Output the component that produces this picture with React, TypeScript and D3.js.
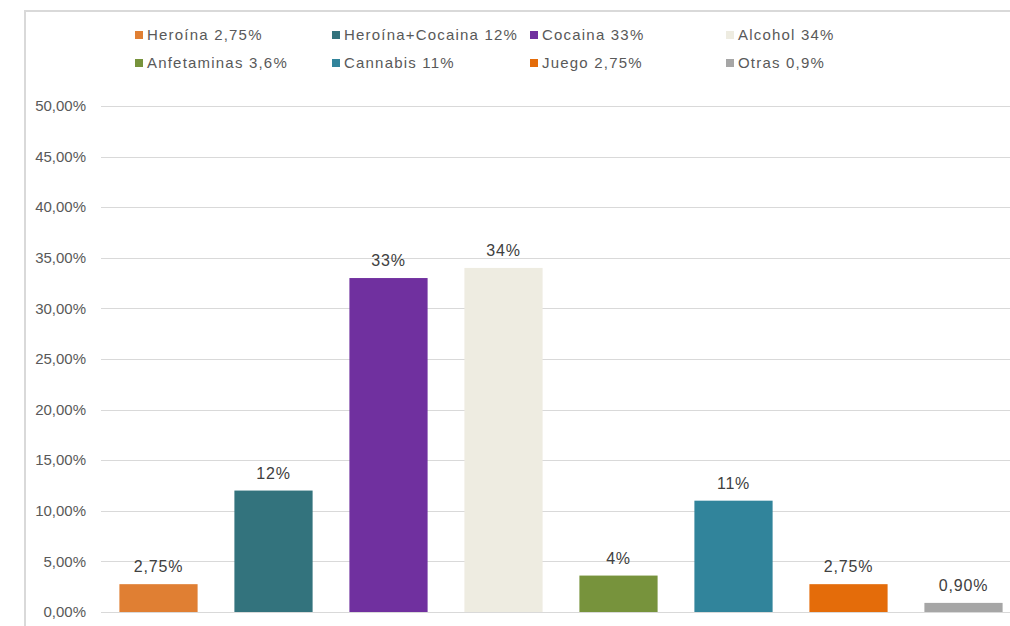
import * as d3 from "d3";
import { useEffect, useRef } from "react";

const categories = [
  "Heroína",
  "Heroína+Cocaina",
  "Cocaina",
  "Alcohol",
  "Anfetaminas",
  "Cannabis",
  "Juego",
  "Otras",
];
const values = [0.0275, 0.12, 0.33, 0.34, 0.036, 0.11, 0.0275, 0.009];
const barLabels = ["2,75%", "12%", "33%", "34%", "4%", "11%", "2,75%", "0,90%"];
const legendLabels = [
  "Heroína 2,75%",
  "Heroína+Cocaina 12%",
  "Cocaina 33%",
  "Alcohol 34%",
  "Anfetaminas 3,6%",
  "Cannabis 11%",
  "Juego 2,75%",
  "Otras 0,9%",
];
const colors = [
  "#E07F33",
  "#33737D",
  "#70309F",
  "#EEECE1",
  "#77933C",
  "#31849B",
  "#E46C0A",
  "#A6A6A6",
];
const yTicks = [0, 0.05, 0.1, 0.15, 0.2, 0.25, 0.3, 0.35, 0.4, 0.45, 0.5];

const WIDTH = 1010;
const HEIGHT = 626;
const FONT = "'Liberation Sans', Arial, sans-serif";

export default function App() {
  const ref = useRef<SVGSVGElement>(null);

  useEffect(() => {
    document.body.style.margin = "0";
    document.body.style.overflow = "hidden";
    if (!ref.current) return;
    const svg = d3.select(ref.current);
    svg.selectAll("*").remove();

    const x = d3
      .scaleBand<string>()
      .domain(categories)
      .range([101, 1021])
      .paddingInner(0.32)
      .paddingOuter(0.16);

    const y = d3.scaleLinear().domain([0, 0.5]).range([612, 106]);

    // chart frame (only top and left edges are visible)
    svg
      .append("path")
      .attr("d", `M25,${HEIGHT} V11 H${WIDTH}`)
      .attr("fill", "none")
      .attr("stroke", "#D9D9D9")
      .attr("stroke-width", 2);

    // gridlines
    svg
      .append("g")
      .selectAll("line")
      .data(yTicks)
      .enter()
      .append("line")
      .attr("x1", 101)
      .attr("x2", WIDTH)
      .attr("y1", (d) => Math.round(y(d)) + 0.5)
      .attr("y2", (d) => Math.round(y(d)) + 0.5)
      .attr("stroke", "#D9D9D9")
      .attr("stroke-width", 1.2);

    const fmt = (d: number) => (d * 100).toFixed(2).replace(".", ",") + "%";

    svg
      .append("g")
      .selectAll("text")
      .data(yTicks)
      .enter()
      .append("text")
      .attr("x", 86)
      .attr("y", (d) => y(d))
      .attr("dy", "0.35em")
      .attr("text-anchor", "end")
      .attr("font-family", FONT)
      .attr("font-size", "15px")
      .attr("fill", "#595959")
      .text(fmt);

    // bars
    svg
      .append("g")
      .selectAll("rect")
      .data(values)
      .enter()
      .append("rect")
      .attr("x", (d, i) => x(categories[i])!)
      .attr("y", (d) => y(d))
      .attr("width", x.bandwidth())
      .attr("height", (d) => y(0) - y(d))
      .attr("fill", (d, i) => colors[i]);

    // data labels
    svg
      .append("g")
      .selectAll("text")
      .data(values)
      .enter()
      .append("text")
      .attr("x", (d, i) => x(categories[i])! + x.bandwidth() / 2)
      .attr("y", (d) => y(d) - 12)
      .attr("text-anchor", "middle")
      .attr("font-family", FONT)
      .attr("font-size", "16px")
      .attr("letter-spacing", "0.8px")
      .attr("fill", "#404040")
      .text((d, i) => barLabels[i]);

    // legend
    const colX = [135, 332, 530, 726];
    const rowY = [40, 68];
    const legend = svg
      .append("g")
      .selectAll("g")
      .data(legendLabels)
      .enter()
      .append("g")
      .attr("transform", (d, i) => `translate(${colX[i % 4]},${rowY[Math.floor(i / 4)]})`);

    legend
      .append("rect")
      .attr("x", 0)
      .attr("y", -9)
      .attr("width", 8)
      .attr("height", 8)
      .attr("fill", (d, i) => colors[i]);

    legend
      .append("text")
      .attr("x", 12)
      .attr("y", 0)
      .attr("font-family", FONT)
      .attr("font-size", "15px")
      .attr("letter-spacing", "1.2px")
      .attr("fill", "#595959")
      .text((d) => d);
  }, []);

  return (
    <svg
      ref={ref}
      width={WIDTH}
      height={HEIGHT}
      style={{ position: "absolute", left: 0, top: 0, background: "#fff" }}
    />
  );
}
